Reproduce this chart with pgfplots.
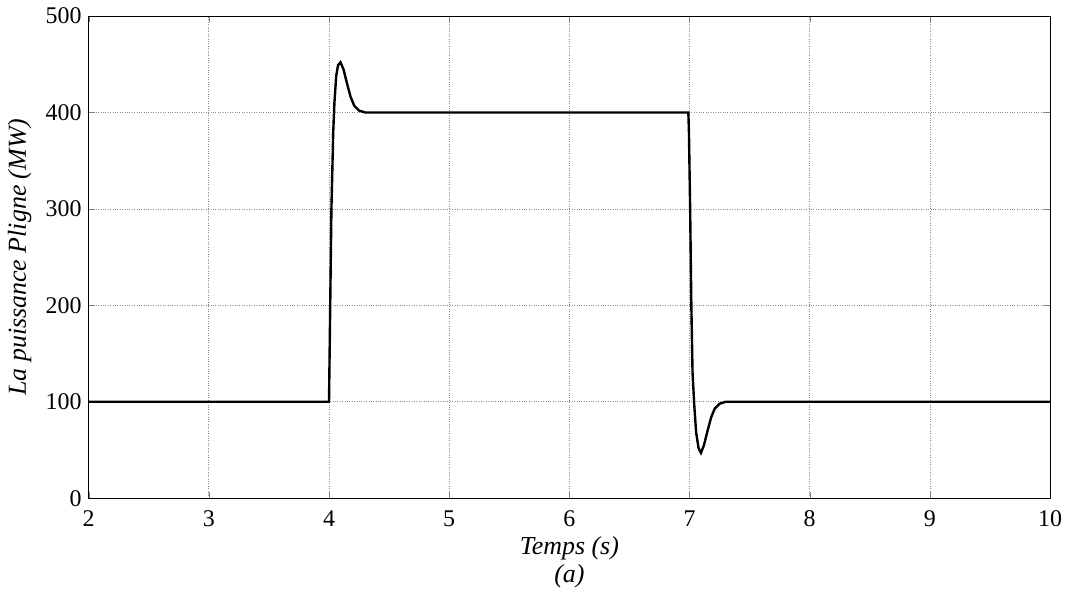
\documentclass[border=0pt]{standalone}
\usepackage{fontspec}
\setmainfont{Liberation Serif}
\usepackage{pgfplots}
\pgfplotsset{compat=1.18}
\begin{document}
\fontsize{24}{28}\selectfont
\begin{tikzpicture}[x=1bp,y=1bp]
\begin{axis}[
  scale only axis,
  width=961bp, height=482bp,
  xmin=2, xmax=10, ymin=0, ymax=500,
  xtick={2,3,...,10}, ytick={0,100,...,500},
  tick align=inside, tick pos=both,
  major tick length=6bp,
  grid=major,
  grid style={dotted, gray!90, line width=0.7pt},
  axis line style={line width=0.9pt},
  /pgf/number format/assume math mode=true,
  ticklabel style={font=\fontsize{24}{28}\selectfont},
  xticklabel style={yshift=-4bp},
  yticklabel style={xshift=1bp},
  xlabel={\textit{Temps (s)}\\\textit{(a)}},
  xlabel style={align=center, font=\fontsize{26}{28}\selectfont, yshift=6bp},
  ylabel={\textit{La puissance Pligne (MW)}},
  ylabel style={font=\fontsize{26}{30}\selectfont, yshift=-2bp},
]
\addplot[black, line width=2.4pt] coordinates {
(2,100) (4.0,100) (4.005,150) (4.01,200) (4.02,300) (4.035,380) (4.045,410)
(4.06,438) (4.075,449) (4.095,452) (4.12,445) (4.15,430) (4.18,416) (4.21,407)
(4.25,402) (4.3,400) (6.99,400) (6.995,380) (7.005,300) (7.015,200) (7.025,130)
(7.04,95) (7.055,68) (7.075,52) (7.095,47) (7.12,55) (7.15,70) (7.18,84) (7.21,93)
(7.25,98) (7.3,100) (10,100)
};
\end{axis}
\end{tikzpicture}
\end{document}
